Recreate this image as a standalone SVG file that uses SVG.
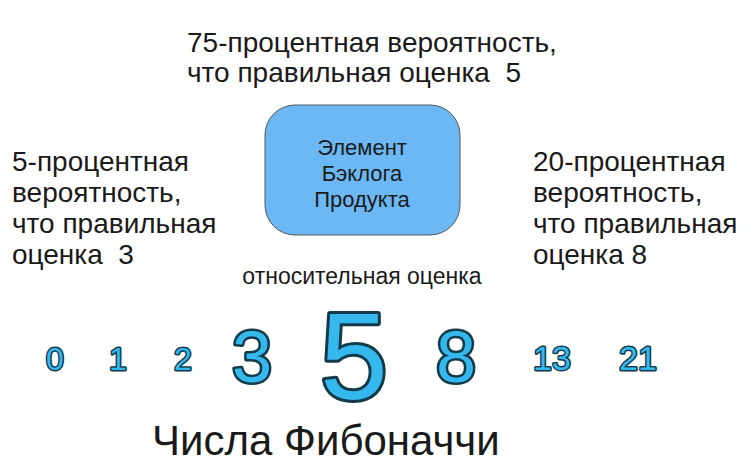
<svg xmlns="http://www.w3.org/2000/svg" width="755" height="475" viewBox="0 0 755 475">
<style>
.t{font-family:"Liberation Sans",Arial,sans-serif;fill:#1a1a1a}
.lbl{font-size:28px}
.box{font-size:22px;text-anchor:middle}
.num{font-family:"Liberation Sans",Arial,sans-serif;fill:#35b8ee;stroke:#123a48;text-anchor:middle;paint-order:stroke;stroke-linejoin:round}
</style>
<rect width="755" height="475" fill="#ffffff"/>
<g id="node-item">
<rect x="265" y="105" width="195" height="130" rx="30" ry="30" fill="#6cb8f4" stroke="#555555" stroke-width="1"/>
<text class="t box" x="362" y="155">Элемент</text>
<text class="t box" x="362" y="181">Бэклога</text>
<text class="t box" x="362" y="207">Продукта</text>
</g>
<g id="label-top">
<text class="t lbl" x="187" y="52">75-процентная вероятность,</text>
<text class="t lbl" x="187" y="82" xml:space="preserve">что правильная оценка  5</text>
</g>
<g id="label-left">
<text class="t lbl" x="12" y="171">5-процентная</text>
<text class="t lbl" x="12" y="202">вероятность,</text>
<text class="t lbl" x="12" y="233">что правильная</text>
<text class="t lbl" x="12" y="264" xml:space="preserve">оценка  3</text>
</g>
<g id="label-right">
<text class="t lbl" x="533" y="171">20-процентная</text>
<text class="t lbl" x="533" y="202">вероятность,</text>
<text class="t lbl" x="533" y="233">что правильная</text>
<text class="t lbl" x="533" y="264">оценка 8</text>
</g>
<g id="label-relative">
<text class="t" x="362" y="284" font-size="23" text-anchor="middle">относительная оценка</text>
</g>
<g id="numbers">
<text class="num" x="55" y="370" font-size="32" stroke-width="3">0</text>
<text class="num" x="118" y="370" font-size="32" stroke-width="3">1</text>
<text class="num" x="183" y="370" font-size="32" stroke-width="3">2</text>
<text class="num" x="252" y="382" font-size="72" stroke-width="5">3</text>
<text class="num" x="354" y="399" font-size="122" stroke-width="6">5</text>
<text class="num" x="456" y="382" font-size="72" stroke-width="5">8</text>
<text class="num" x="552" y="370" font-size="34" stroke-width="3">13</text>
<text class="num" x="638" y="370" font-size="34" stroke-width="3">21</text>
</g>
<g id="connectors"></g>
<g id="title">
<text class="t" x="152" y="455" font-size="42">Числа Фибоначчи</text>
</g>
</svg>
